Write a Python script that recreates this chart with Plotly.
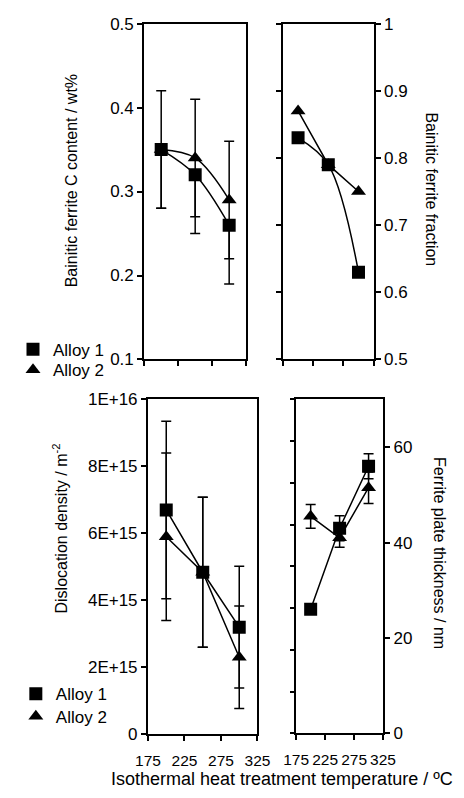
import plotly.graph_objects as go

# ---------------- data ----------------
temps = [200, 250, 300]
x_ticks = [175, 225, 275, 325]

c_alloy1 = [0.35, 0.32, 0.26]
c_alloy1_err_minus = [0.07, 0.07, 0.07]
c_alloy1_err_plus = [0.0, 0.0, 0.0]
c_alloy2 = [0.35, 0.34, 0.29]
c_alloy2_err = [0.07, 0.07, 0.07]

frac_alloy1 = [0.83, 0.79, 0.63]
frac_alloy2 = [0.87, 0.79, 0.75]

disl_alloy1 = [6.7e15, 4.84e15, 3.2e15]
disl_alloy1_err = [2.65e15, 2.24e15, 1.82e15]
disl_alloy2 = [5.9e15, 4.84e15, 2.3e15]
disl_alloy2_err = [2.5e15, 2.24e15, 1.53e15]
disl_tickvals = [0, 2e15, 4e15, 6e15, 8e15, 1e16]
disl_ticktext = ["0", "2E+15", "4E+15", "6E+15", "8E+15", "1E+16"]

thick_alloy1 = [26, 43, 56]
thick_alloy1_err = [1.0, 2.6, 2.6]
thick_alloy2 = [45.5, 41, 51.5]
thick_alloy2_err = [2.5, 2.0, 3.3]

series_names = ["Alloy 1", "Alloy 2"]

# ---------------- figure ----------------
W, H = 464, 798
FONT = "Arial, 'Liberation Sans', sans-serif"
BLACK = "black"

fig = go.Figure()


def err(arr, minus=None):
    d = dict(type="data", array=arr, color=BLACK, thickness=1.5, width=5, visible=True)
    if minus is not None:
        d["symmetric"] = False
        d["arrayminus"] = minus
    return d


def trace(y, xa, ya, symbol, shape="linear", error=None, size=13):
    return go.Scatter(
        x=temps, y=y, xaxis=xa, yaxis=ya, mode="lines+markers",
        line=dict(color=BLACK, width=1.5, shape=shape),
        marker=dict(symbol=symbol, size=size, color=BLACK),
        error_y=error, showlegend=False, hoverinfo="skip",
    )


# top-left: C content
fig.add_trace(trace(c_alloy2, "x", "y", "triangle-up", "spline", err(c_alloy2_err)))
fig.add_trace(trace(c_alloy1, "x", "y", "square", "spline",
                    err(c_alloy1_err_plus, c_alloy1_err_minus)))
# top-right: fraction
fig.add_trace(trace(frac_alloy2, "x2", "y2", "triangle-up", "linear"))
fig.add_trace(trace(frac_alloy1, "x2", "y2", "square", "spline"))
# bottom-left: dislocation density
fig.add_trace(trace(disl_alloy2, "x3", "y3", "triangle-up", "linear", err(disl_alloy2_err)))
fig.add_trace(trace(disl_alloy1, "x3", "y3", "square", "linear", err(disl_alloy1_err)))
# bottom-right: plate thickness
fig.add_trace(trace(thick_alloy2, "x4", "y4", "triangle-up", "linear", err(thick_alloy2_err)))
fig.add_trace(trace(thick_alloy1, "x4", "y4", "square", "linear", err(thick_alloy1_err)))
# invisible trace for the secondary left tick axis of bottom-right panel
fig.add_trace(go.Scatter(x=[None], y=[None], xaxis="x4", yaxis="y5",
                         showlegend=False, hoverinfo="skip"))

# legend entries (one legend per entry for exact placement)
legend_ids = ["legend", "legend2", "legend3", "legend4"]
legend_syms = ["square", "triangle-up", "square", "triangle-up"]
legend_names = series_names + series_names
for lg, name, sym in zip(legend_ids, legend_names, legend_syms):
    fig.add_trace(go.Scatter(x=[None], y=[None], xaxis="x", yaxis="y", mode="markers",
                             name=name, legend=lg,
                             marker=dict(symbol=sym, size=13, color=BLACK),
                             showlegend=True))


def px_x(a, b):
    return [a / W, b / W]


def px_y(top, bottom):
    return [1 - bottom / H, 1 - top / H]


axis_common = dict(showline=True, linecolor=BLACK, linewidth=2, mirror=True,
                   ticks="outside", ticklen=5, tickwidth=1.5, tickcolor=BLACK,
                   showgrid=False, zeroline=False, fixedrange=True,
                   tickfont=dict(family=FONT, size=17, color=BLACK))

xcommon = dict(axis_common, range=[175, 325], tickvals=x_ticks, tickangle=0,
               ticklabelstandoff=6,
               tickfont=dict(family=FONT, size=15.5, color=BLACK))


def leg(xpx, ytop):
    return dict(x=xpx / W, y=1 - ytop / H, xanchor="left", yanchor="top",
                bgcolor="rgba(0,0,0,0)", font=dict(family=FONT, size=17, color=BLACK),
                itemwidth=30, tracegroupgap=0)


fig.update_layout(
    width=W, height=H, margin=dict(l=0, r=0, t=0, b=0),
    paper_bgcolor="white", plot_bgcolor="white",
    font=dict(family=FONT, size=16, color=BLACK),
    xaxis=dict(xcommon, domain=px_x(139, 247), anchor="y", showticklabels=False),
    yaxis=dict(axis_common, domain=px_y(15, 359), anchor="x", range=[0.1, 0.5],
               dtick=0.1, tickformat=".1f"),
    xaxis2=dict(xcommon, domain=px_x(286, 382), anchor="y2", showticklabels=False),
    yaxis2=dict(axis_common, domain=px_y(15, 359), anchor="x2", range=[0.5, 1],
                dtick=0.1, side="right", mirror="allticks"),
    xaxis3=dict(xcommon, domain=px_x(143, 259), anchor="y3"),
    yaxis3=dict(axis_common, domain=px_y(400, 743), anchor="x3", range=[0, 1e16],
                tickmode="array", tickvals=disl_tickvals, ticktext=disl_ticktext),
    xaxis4=dict(xcommon, domain=px_x(300, 392), anchor="y4"),
    yaxis4=dict(axis_common, domain=px_y(400, 742), anchor="x4", range=[0, 70],
                dtick=20, side="right"),
    yaxis5=dict(axis_common, anchor="x4", overlaying="y4", side="left", range=[0, 8],
                dtick=1, showticklabels=False, showline=False, mirror=False),
    legend=leg(0, 330.5),
    legend2=leg(0, 351.5),
    legend3=leg(3, 683.5),
    legend4=leg(3, 706.5),
)

ann = dict(xref="paper", yref="paper", showarrow=False,
           font=dict(family=FONT, size=16, color=BLACK))
fig.add_annotation(ann, text="Bainitic ferrite C content / wt%", x=62 / W, y=1 - 176 / H,
                   textangle=-90, xanchor="center", yanchor="middle")
fig.add_annotation(ann, text="Bainitic ferrite fraction", x=443 / W, y=1 - 185 / H,
                   textangle=90, xanchor="center", yanchor="middle")
fig.add_annotation(ann, text="Dislocation density / m<sup>-2</sup>", x=50 / W, y=1 - 532 / H,
                   textangle=-90, xanchor="center", yanchor="middle")
fig.add_annotation(ann, text="Ferrite plate thickness / nm", x=452 / W, y=1 - 557 / H,
                   textangle=90, xanchor="center", yanchor="middle")
fig.add_annotation(ann, text="Isothermal heat treatment temperature / ºC", x=285 / W,
                   y=1 - 789 / H, xanchor="center", yanchor="middle",
                   font=dict(family=FONT, size=18, color=BLACK))

fig.write_html("out.html")
